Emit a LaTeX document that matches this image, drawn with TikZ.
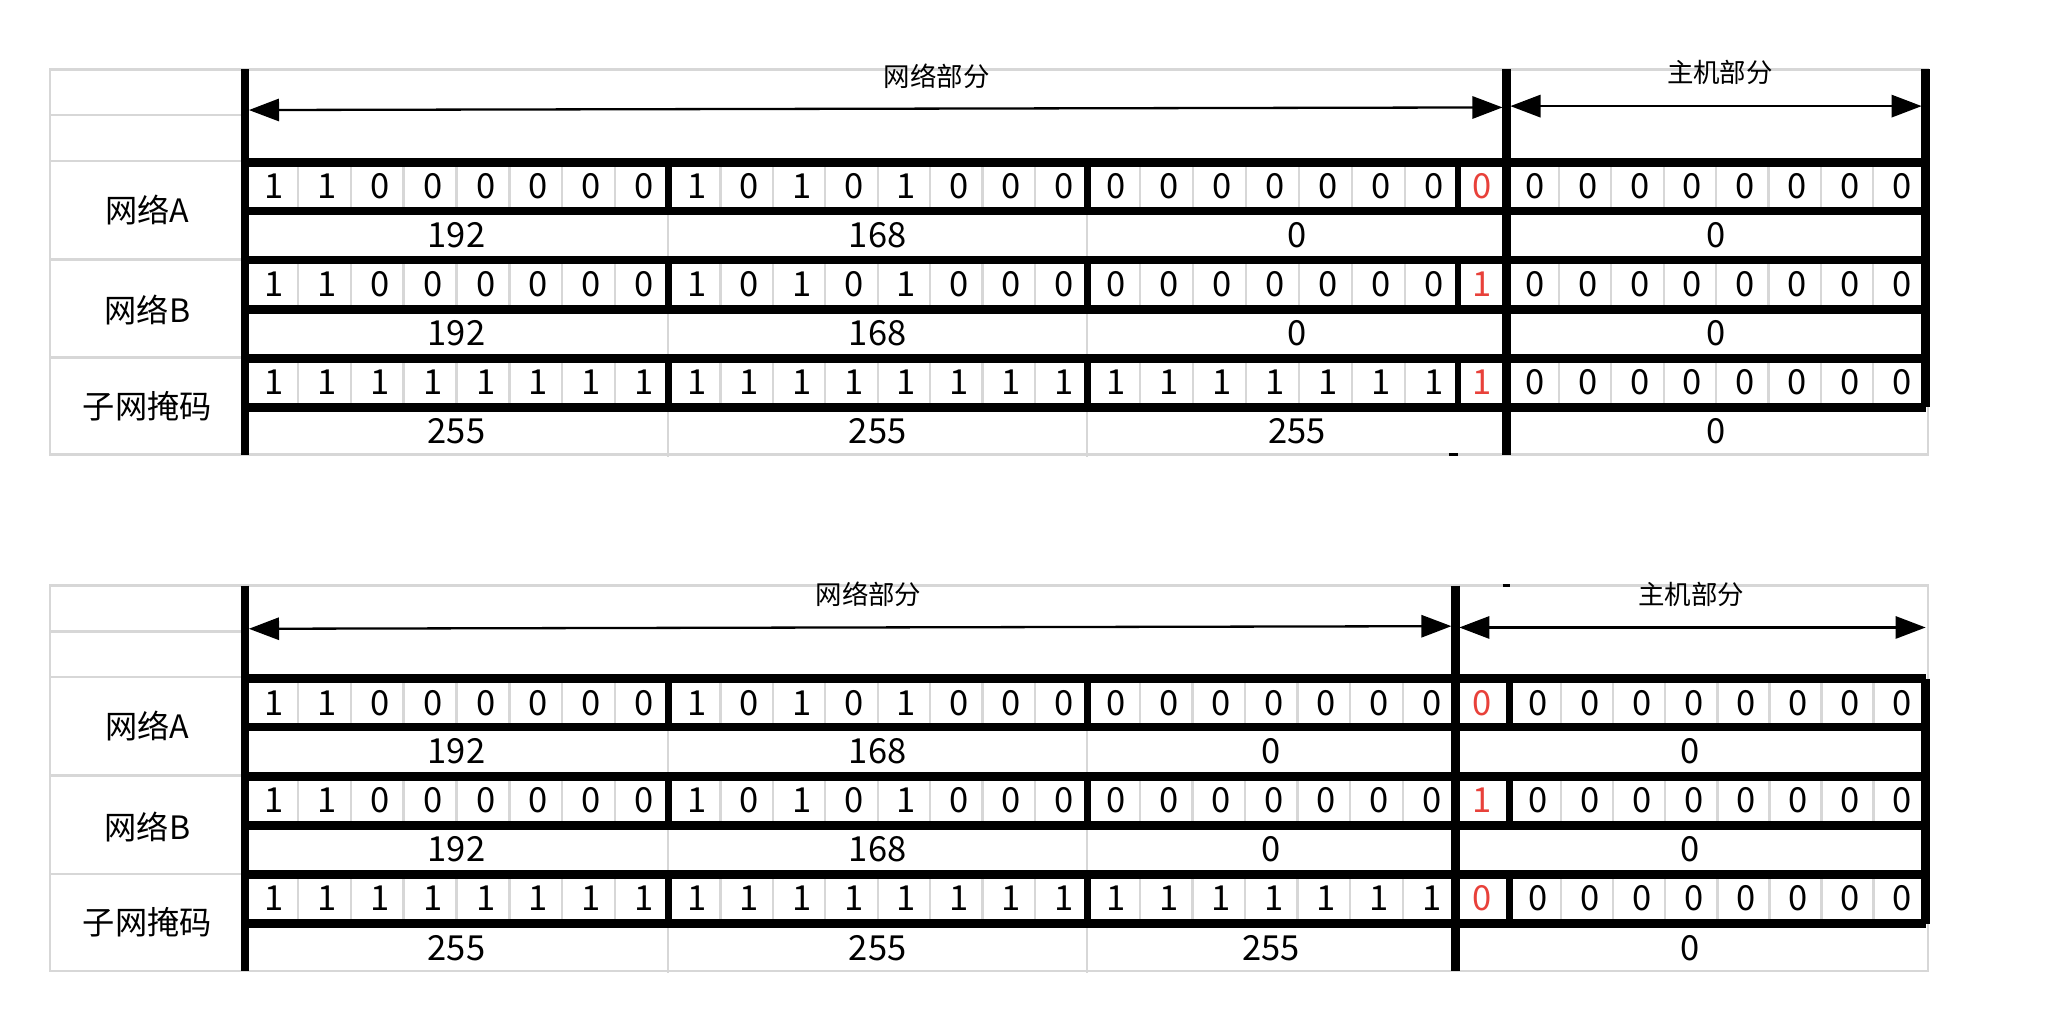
\documentclass[tikz,border=0pt]{standalone}
\usepackage{fontspec}
\setmainfont{Noto Sans CJK SC}
\usetikzlibrary{arrows.meta,positioning}
\definecolor{gridgray}{RGB}{215,215,215}
\definecolor{redbit}{RGB}{232,65,58}
\tikzset{
    %Define standard arrow tip
    >={Triangle[length=0.46cm,width=0.34cm]},
    %Define styles for the sheet lines
    cellwall/.style={draw=gridgray, line width=1pt},
    heavy/.style={line width=3.8pt},
    bytewall/.style={line width=3pt},
    %Define styles for the texts
    bit/.style={font=\fontsize{15}{15}\selectfont, inner sep=0pt},
    rowname/.style={font=\fontsize{14}{14}\selectfont, inner sep=0pt},
    part/.style={font=\fontsize{11.5}{12}\selectfont, inner sep=0pt},
    % Define arrow style
    partarrow/.style={<->, line width=1pt}
}

% one row of 32 bits: name, top, byte 1, byte 2, first 7 bits of byte 3, last bit
\newcommand{\bitrow}[6]{%
  \foreach \d [count=\i] in {#3}
    \node[bit] (#1-a\i) at ({189+(\i-0.5)*40.375}, #2+18.5) {\d};
  \foreach \d [count=\i] in {#4}
    \node[bit] (#1-b\i) at ({512+(\i-0.5)*40}, #2+18.5) {\d};
  \foreach \d [count=\i] in {#5}
    \node[bit] (#1-c\i) at ({832+(\i-0.5)*(\redl-830)/7}, #2+18.5) {\d};
  \node[bit, text=redbit] (#1-r) at ({(\redl+\redr)/2}, #2+18.5) {#6};
  \foreach \i in {1,...,8}
    \node[bit] (#1-d\i) at ({\redr+2+(\i-0.5)*(1470-\redr)/8}, #2+18.5) {0};
  \foreach \i in {1,...,7} {
    \draw[cellwall] ({187+\i*40.375}, #2) -- ++(0,37);
    \draw[cellwall] ({510+\i*40}, #2) -- ++(0,37);
    \draw[cellwall] ({\redr+\i*(1470-\redr)/8}, #2) -- ++(0,37);
  }
  \foreach \i in {1,...,6}
    \draw[cellwall] ({830+\i*(\redl-830)/7}, #2) -- ++(0,37);
  \foreach \xx in {510,830,\bytex}
    \draw[bytewall] (\xx, #2) -- ++(0,37);
}

% one row of the four decimal values
\newcommand{\decrow}[6]{%
  \draw[cellwall] (510,#2) -- ++(0,37.5) (830,#2) -- ++(0,37.5);
  \node[bit] (#1-1) at (348.5, #2+18.5) {#3};
  \node[bit] (#1-2) at (670, #2+18.5) {#4};
  \node[bit] (#1-3) at ({(830+\splitx)/2}, #2+18.5) {#5};
  \node[bit] (#1-4) at ({(\splitx+1470)/2}, #2+18.5) {#6};
}

% the whole sheet: name, last network bit of the mask
\newcommand{\iptable}[2]{%
  \draw[cellwall] (38,0) rectangle (1472,294);
  \foreach \yy in {35,70,145,220}
    \draw[cellwall] (38,\yy) -- (187,\yy);
  \node[rowname] (#1-na) at (112.5,107) {网络A};
  \node[rowname] (#1-nb) at (112.5,184) {网络B};
  \node[rowname] (#1-mask) at (112.5,257) {子网掩码};
  \bitrow{#1-ra}{71}{1,1,0,0,0,0,0,0}{1,0,1,0,1,0,0,0}{0,0,0,0,0,0,0}{0}
  \decrow{#1-da}{108}{192}{168}{0}{0}
  \bitrow{#1-rb}{145.5}{1,1,0,0,0,0,0,0}{1,0,1,0,1,0,0,0}{0,0,0,0,0,0,0}{1}
  \decrow{#1-db}{183}{192}{168}{0}{0}
  \bitrow{#1-rm}{220.5}{1,1,1,1,1,1,1,1}{1,1,1,1,1,1,1,1}{1,1,1,1,1,1,1}{#2}
  \decrow{#1-dm}{258}{255}{255}{255}{0}
  \foreach \yy in {71,108,145.5,183,220.5,258}
    \draw[heavy] (187,\yy) -- (1470,\yy);
  \draw[heavy] (187,0) -- (187,294);
  \draw[heavy] (\splitx,0) -- (\splitx,294);
  \draw[heavy] (1470,71) -- (1470,258);
}

\begin{document}
\begin{tikzpicture}[x=0.02cm, y=-0.02cm]
\useasboundingbox (0,0) rectangle (1568,785);

% upper sheet: the borrowed bit stays in the network part
\begin{scope}[shift={(0,53)}]
  \def\redl{1113}\def\redr{1150}\def\bytex{1113}\def\splitx{1150}
  \iptable{up}{1}
  \draw[heavy] (1470,0) -- (1470,71);
  \draw[line width=1.6pt] (1106,294) -- (1113,294);
  \coordinate (up-netl) at (190,31);
  \coordinate (up-netr) at (1147,29);
  \coordinate (up-hostl) at (1153,28);
  \coordinate (up-hostr) at (1467,28);
  \draw[partarrow] (up-netl) -- (up-netr);
  \draw[partarrow] (up-hostl) -- (up-hostr);
  \node[part] (up-net) at (715,5) {网络部分};
  \node[part] (up-host) at (1313,2) {主机部分};
\end{scope}

% lower sheet: the borrowed bit goes to the host part
\begin{scope}[shift={(0,447)}]
  \def\redl{1111}\def\redr{1152}\def\bytex{1152}\def\splitx{1111}
  \iptable{low}{0}
  \draw[line width=1.6pt] (1147,0) -- (1153,0);
  \coordinate (low-netl) at (190,33);
  \coordinate (low-netr) at (1108,31);
  \coordinate (low-hostl) at (1114,32);
  \coordinate (low-hostr) at (1470,32);
  \draw[partarrow] (low-netl) -- (low-netr);
  \draw[partarrow] (low-hostl) -- (low-hostr);
  \node[part] (low-net) at (663,7) {网络部分};
  \node[part] (low-host) at (1291,7) {主机部分};
\end{scope}
\end{tikzpicture}
\end{document}
